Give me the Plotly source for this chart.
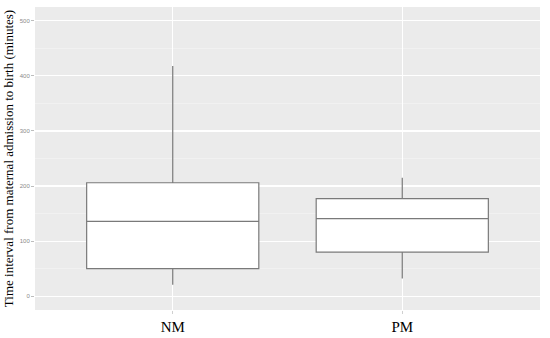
import plotly.graph_objects as go

groups = ["NM", "PM"]
q1 = [50, 80]
median = [136, 141]
q3 = [206, 177]
lower_whisker = [21, 32]
upper_whisker = [418, 215]
y_ticks = [0, 100, 200, 300, 400, 500]

fig = go.Figure()
for i, g in enumerate(groups):
    fig.add_trace(go.Box(
        x=[g], q1=[q1[i]], median=[median[i]], q3=[q3[i]],
        lowerfence=[lower_whisker[i]], upperfence=[upper_whisker[i]],
        fillcolor="white", line=dict(color="#7a7a7a", width=1.2),
        whiskerwidth=0, width=0.75, boxpoints=False, showlegend=False,
        hoverinfo="skip",
    ))

fig.update_layout(
    width=550, height=338,
    margin=dict(l=35, r=10, t=7, b=28),
    paper_bgcolor="white", plot_bgcolor="#EBEBEB",
    showlegend=False,
    xaxis=dict(
        type="category", range=[-0.6, 1.6], automargin=False,
        showgrid=True, gridcolor="white", gridwidth=1,
        zeroline=False, showline=False,
        ticks="outside", ticklen=3, tickcolor="#d0d0d0",
        tickfont=dict(family="Liberation Serif", size=15, color="black"),
    ),
    yaxis=dict(
        range=[-25, 525], tickvals=y_ticks, automargin=False,
        showgrid=True, gridcolor="white", gridwidth=1.2,
        minor=dict(dtick=50, tick0=0, showgrid=True, gridcolor="#F5F5F5", gridwidth=0.6),
        zeroline=False, showline=False,
        ticks="outside", ticklen=3, tickcolor="#bdbdbd",
        tickfont=dict(family="Liberation Sans", size=6, color="#8a8a8a"),
        title=dict(text="Time interval from maternal admission to birth (minutes)",
                   font=dict(family="Liberation Serif", size=13, color="black"), standoff=3),
    ),
)

fig.write_html("out.html", config={"displayModeBar": False, "staticPlot": True})

with open("out.html", "r", encoding="utf-8") as f:
    html = f.read()
html = html.replace("<body>", '<body style="margin:0;padding:0">', 1)
with open("out.html", "w", encoding="utf-8") as f:
    f.write(html)
